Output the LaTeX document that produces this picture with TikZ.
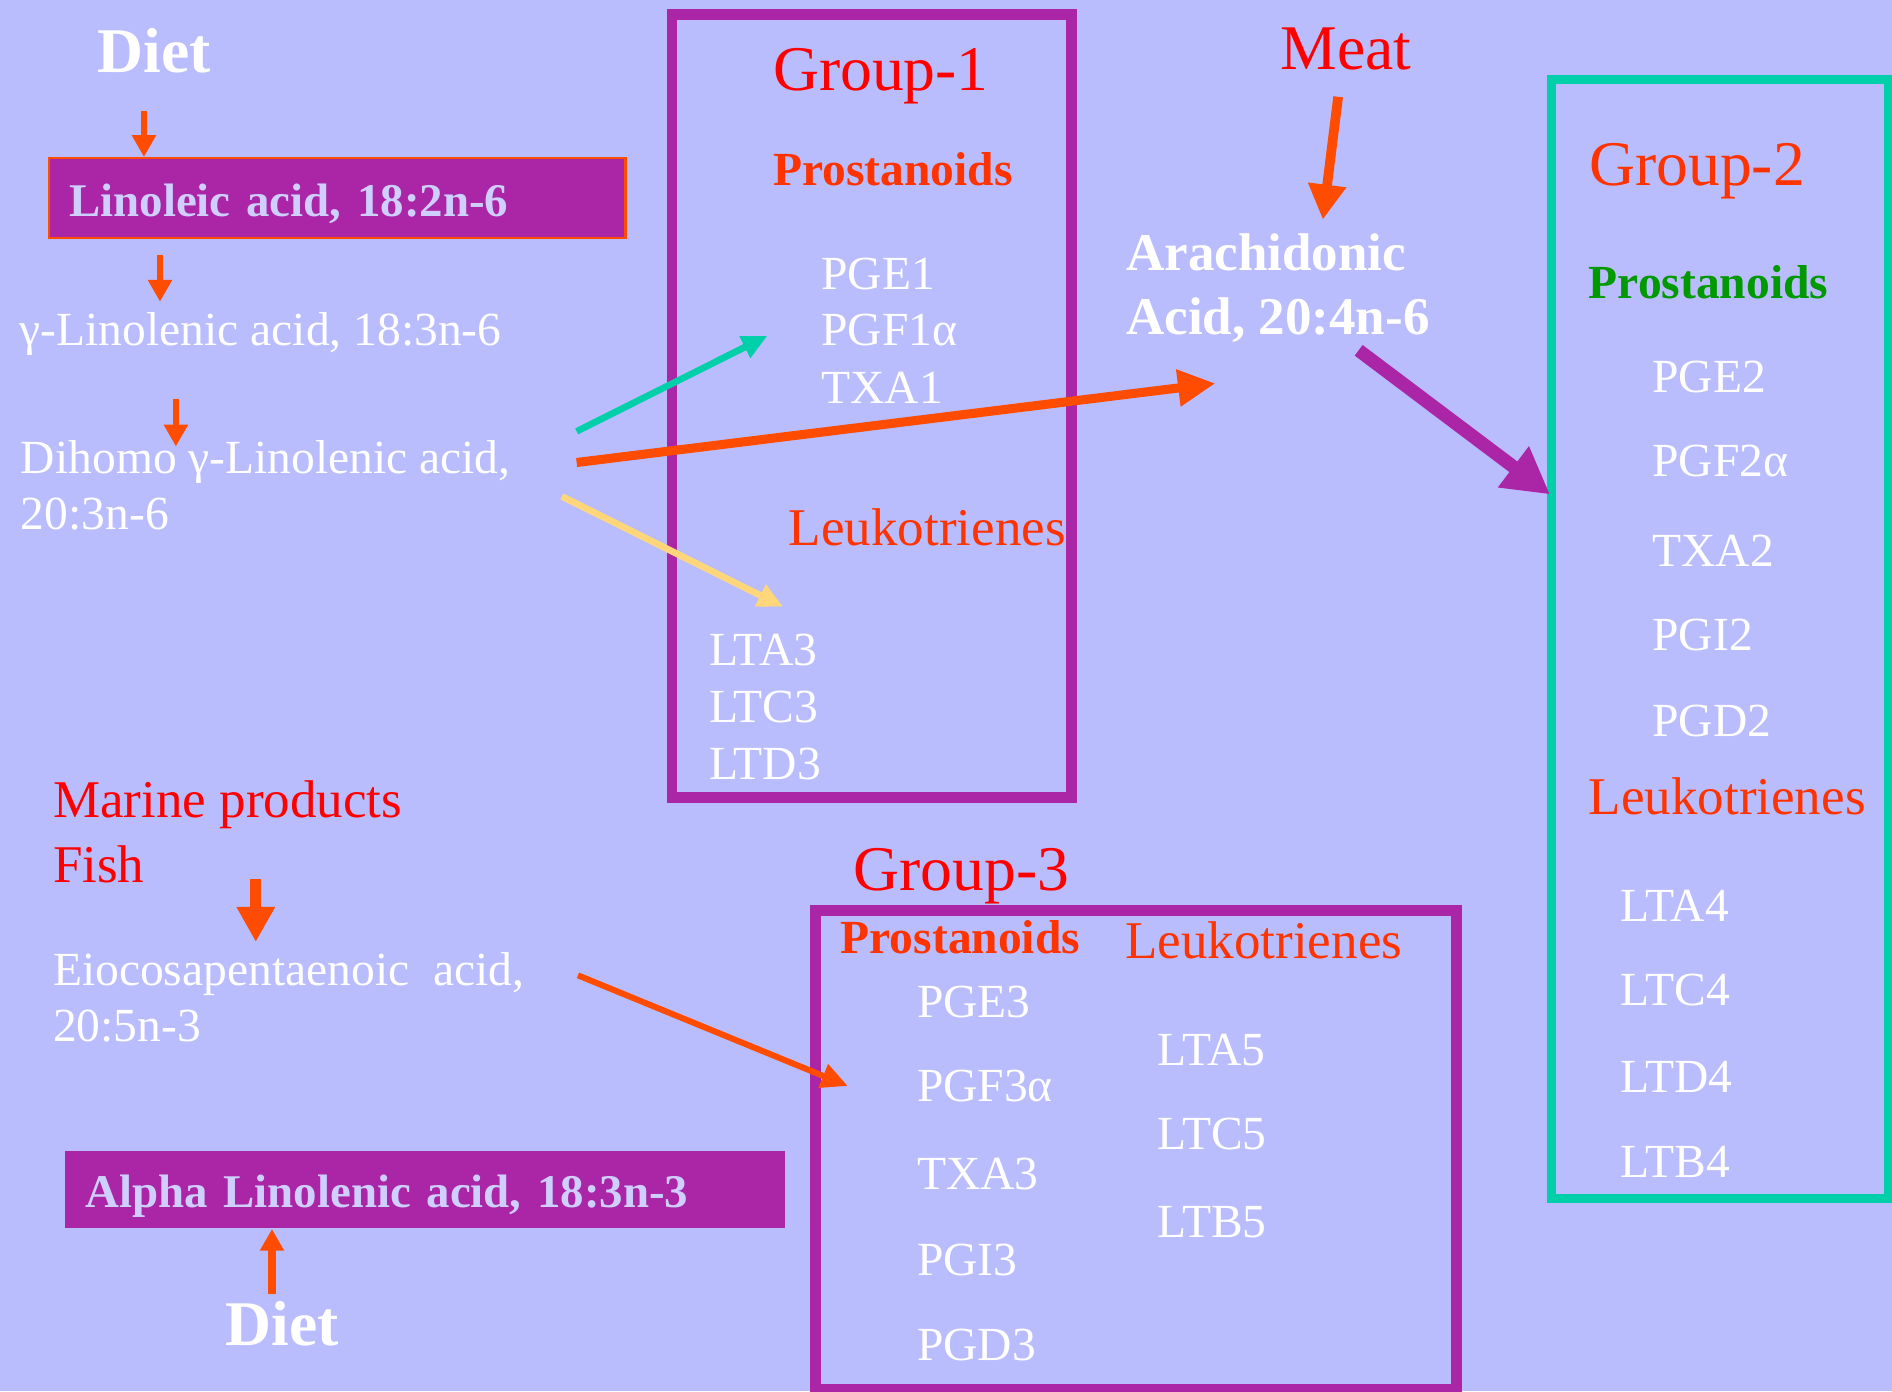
\documentclass[tikz,border=0pt]{standalone}
\usepackage{fontspec}
\setmainfont{Liberation Serif}
\usetikzlibrary{arrows.meta}

\definecolor{lav}{RGB}{186,189,253}
\definecolor{plum}{RGB}{170,38,166}
\definecolor{aqua}{RGB}{0,208,170}
\definecolor{flame}{RGB}{255,76,0}
\definecolor{hdred}{RGB}{255,51,0}
\definecolor{pale}{RGB}{206,206,255}
\definecolor{leaf}{RGB}{0,153,0}
\definecolor{sand}{RGB}{255,214,122}

\def\bodysize{\fontsize{11.2}{13.3}\selectfont}
\def\boxsize{\fontsize{11.05}{13.3}\selectfont}
\def\headsize{\fontsize{12.5}{15}\selectfont}
\def\titlesize{\fontsize{15}{18}\selectfont}

\tikzstyle{txt}=[anchor=base west,inner sep=0pt,text=white,font=\bodysize]
\tikzstyle{boldtxt}=[txt,font=\headsize\bfseries]
\tikzstyle{dietlbl}=[txt,font=\titlesize\bfseries]
\tikzstyle{grptitle}=[anchor=base west,inner sep=0pt,text=red,font=\titlesize]
\tikzstyle{hdtxt}=[anchor=base west,inner sep=0pt,text=hdred,font=\headsize]
\tikzstyle{prost}=[anchor=base west,inner sep=0pt,text=hdred,font=\bodysize\bfseries]
\tikzstyle{acidbox}=[anchor=base west,fill=plum,inner xsep=0.171cm,inner ysep=0pt,text=pale,font=\boxsize\bfseries,align=left]
\tikzstyle{grpbox}=[draw=plum,line width=0.09cm,inner sep=0pt]
\tikzstyle{sarr}=[flame,line width=0.05cm,-{Triangle[width=0.19cm,length=0.18cm]}]
\tikzstyle{barr}=[flame,line width=0.08cm,-{Triangle[width=0.3cm,length=0.29cm]}]

\begin{document}
\begin{tikzpicture}[x=0.01cm,y=-0.01cm]
\fill[lav] (0,0) rectangle (1568,1153);
\useasboundingbox (0,0) rectangle (1568,1153);

% omega-6 column
\node[dietlbl] (diet_1) at (80.2,60) {Diet};
\node[acidbox,draw=flame,line width=0.018cm,text width=4.436cm,text height=0.487cm,text depth=0.177cm] (la_box) at (39.4,179.7) {Linoleic acid, 18:2n-6};
\node[txt] (gla_1) at (15.7,286.5) {γ-Linolenic acid, 18:3n-6};
\node[txt] (dgla_1) at (16.7,392.3) {Dihomo γ-Linolenic acid,};
\node[txt] (dgla_2) at (16.7,439) {20:3n-6};

% Group-1
\node[grpbox,minimum width=3.31cm,minimum height=6.485cm] (g1_box) at (722.5,336.75) {};
\node[grptitle] (g1_title) at (640,74.6) {Group-1};
\node[prost] (g1_pro) at (640,153.6) {Prostanoids};
\node[txt] (g1_pg_1) at (680,239.6) {PGE1};
\node[txt] (g1_pg_2) at (680,286) {PGF1α};
\node[txt] (g1_pg_3) at (680,334.2) {TXA1};
\node[hdtxt] (g1_leu) at (653,452) {Leukotrienes};
\node[txt] (g1_lt_1) at (587,551.7) {LTA3};
\node[txt] (g1_lt_2) at (587,598.5) {LTC3};
\node[txt] (g1_lt_3) at (587,645.8) {LTD3};

% meat
\node[grptitle] (meat) at (1060.6,57.4) {Meat};
\node[boldtxt] (aa_1) at (932.6,224) {Arachidonic};
\node[boldtxt] (aa_2) at (932.6,277) {Acid, 20:4n-6};

% Group-2
\node[grpbox,draw=aqua,line width=0.07cm,minimum width=2.785cm,minimum height=9.27cm] (g2_box) at (1425.25,529.5) {};
\node[grptitle,text=hdred] (g2_title) at (1316.4,153.7) {Group-2};
\node[prost,text=leaf] (g2_pro) at (1316,247) {Prostanoids};
\node[txt] (g2_pg_1) at (1368.8,325.2) {PGE2};
\node[txt] (g2_pg_2) at (1368.8,395.2) {PGF2α};
\node[txt] (g2_pg_3) at (1368.8,469.2) {TXA2};
\node[txt] (g2_pg_4) at (1368.8,539.2) {PGI2};
\node[txt] (g2_pg_5) at (1368.8,610.2) {PGD2};
\node[hdtxt] (g2_leu) at (1316,675.2) {Leukotrienes};
\node[txt] (g2_lt_1) at (1342.6,763.7) {LTA4};
\node[txt] (g2_lt_2) at (1342.6,833.2) {LTC4};
\node[txt] (g2_lt_3) at (1342.6,905.2) {LTD4};
\node[txt] (g2_lt_4) at (1342.6,976.2) {LTB4};

% omega-3 column
\node[hdtxt,text=red] (mar_1) at (43.3,677.5) {Marine products};
\node[hdtxt,text=red] (mar_2) at (43.3,731) {Fish};
\node[txt] (epa_1) at (43.3,816.6) {Eiocosapentaenoic~ acid,};
\node[txt] (epa_2) at (43.3,863.3) {20:5n-3};
\node[acidbox,text width=5.622cm,text height=0.47cm,text depth=0.168cm] (ala_box) at (52.9,1001) {Alpha Linolenic acid, 18:3n-3};
\node[dietlbl] (diet_2) at (186.4,1115) {Diet};

% Group-3
\node[grptitle] (g3_title) at (706.9,738) {Group-3};
\node[grpbox,minimum width=5.31cm,minimum height=3.96cm] (g3_box) at (941.5,953) {};
\node[prost] (g3_pro) at (696,790) {Prostanoids};
\node[hdtxt] (g3_leu) at (931.9,794.2) {Leukotrienes};
\node[txt] (g3_pg_1) at (759.3,843) {PGE3};
\node[txt] (g3_pg_2) at (759.3,912.9) {PGF3α};
\node[txt] (g3_pg_3) at (759.3,985.7) {TXA3};
\node[txt] (g3_pg_4) at (759.3,1057) {PGI3};
\node[txt] (g3_pg_5) at (759.3,1127.8) {PGD3};
\node[txt] (g3_lt_1) at (958.5,882.9) {LTA5};
\node[txt] (g3_lt_2) at (958.5,952.7) {LTC5};
\node[txt] (g3_lt_3) at (958.5,1025.6) {LTB5};

% arrow ends
\coordinate (diet_1_s) at (119.3,92);
\coordinate (la_s) at (132.6,211);
\coordinate (gla_e) at (132.6,250);
\coordinate (gla_s) at (145.8,330.6);
\coordinate (dgla_e) at (145.8,370);
\coordinate (dgla_s1) at (477.9,357.5);
\coordinate (g1_pg_e) at (636,278.3);
\coordinate (dgla_s2) at (477.9,383.3);
\coordinate (aa_e) at (1007.3,317.7);
\coordinate (dgla_s3) at (465.7,411.4);
\coordinate (g1_lt_e) at (649,502.8);
\coordinate (meat_s) at (1109,80.2);
\coordinate (meat_e) at (1096.3,182);
\coordinate (aa_s) at (1126,290.3);
\coordinate (g2_e) at (1284.6,409.7);
\coordinate (mar_s) at (212,728.5);
\coordinate (epa_e) at (212,780.6);
\coordinate (epa_s) at (479,808.3);
\coordinate (g3_e) at (702.6,900);
\coordinate (diet_2_s) at (225.4,1072.8);

% arrows
\draw[sarr] (diet_1_s) -- (diet_1_s |- la_box.north);
\draw[sarr] (la_s) -- (gla_e);
\draw[sarr] (gla_s) -- (dgla_e);
\draw[aqua,line width=0.055cm,-{Triangle[width=0.19cm,length=0.21cm]}] (dgla_s1) -- (g1_pg_e);
\draw[flame,line width=0.075cm,-{Triangle[width=0.29cm,length=0.31cm]}] (dgla_s2) -- (aa_e);
\draw[sand,line width=0.055cm,-{Triangle[width=0.19cm,length=0.21cm]}] (dgla_s3) -- (g1_lt_e);
\draw[barr] (meat_s) -- (meat_e);
\draw[plum,line width=0.11cm,-{Triangle[width=0.4cm,length=0.38cm]}] (aa_s) -- (g2_e);
\draw[barr,line width=0.09cm] (mar_s) -- (epa_e);
\draw[flame,line width=0.05cm,-{Triangle[width=0.2cm,length=0.22cm]}] (epa_s) -- (g3_e);
\draw[sarr,line width=0.06cm] (diet_2_s) -- (diet_2_s |- ala_box.south);
\end{tikzpicture}
\end{document}
